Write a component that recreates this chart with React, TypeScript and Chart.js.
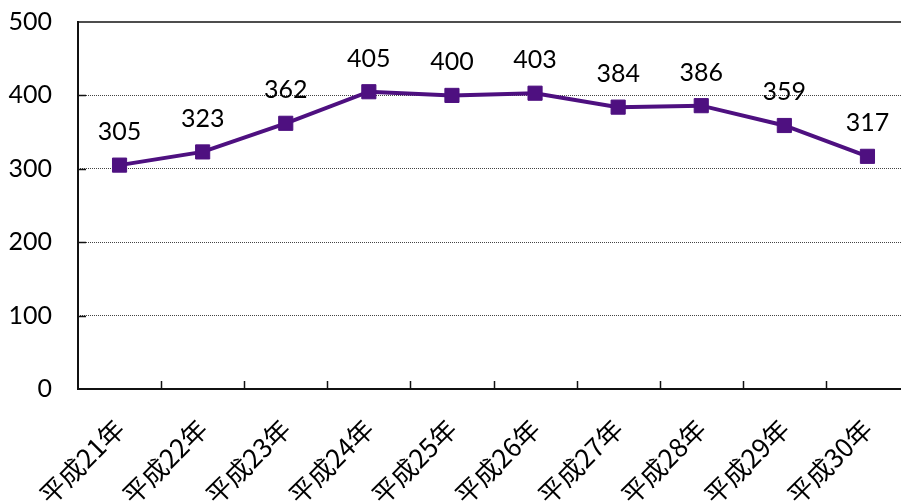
import React, { useEffect, useRef } from "react";
import { Chart, registerables } from "chart.js";

Chart.register(...registerables);

const categories = ["平成21年", "平成22年", "平成23年", "平成24年", "平成25年", "平成26年", "平成27年", "平成28年", "平成29年", "平成30年"];
const values = [305, 323, 362, 405, 400, 403, 384, 386, 359, 317];
const yTicks = [0, 100, 200, 300, 400, 500];

const LINE_COLOR = "#4e1080";
const NUM_FONT = "Lato, 'Open Sans', sans-serif";
const CJK_FONT = "'Noto Sans CJK JP', sans-serif";

const decorPlugin = {
  id: "decor",
  afterDraw(chart: any) {
    const ctx = chart.ctx;
    const area = chart.chartArea;
    const x = chart.scales.x;
    const y = chart.scales.y;
    ctx.save();
    // top line
    ctx.strokeStyle = "#4d4d4d";
    ctx.lineWidth = 2;
    ctx.beginPath();
    ctx.moveTo(area.left, area.top);
    ctx.lineTo(area.right, area.top);
    ctx.stroke();
    // axes
    ctx.strokeStyle = "#111";
    ctx.lineWidth = 2;
    ctx.beginPath();
    ctx.moveTo(area.left, area.top - 1);
    ctx.lineTo(area.left, area.bottom);
    ctx.lineTo(area.right, area.bottom);
    ctx.stroke();
    // y inward ticks
    ctx.lineWidth = 1.5;
    yTicks.forEach((v) => {
      if (v === 0 || v === 500) return;
      const py = Math.round(y.getPixelForValue(v)) + 0.5;
      ctx.beginPath();
      ctx.moveTo(area.left, py);
      ctx.lineTo(area.left + 8, py);
      ctx.stroke();
    });
    // x inward ticks at category boundaries
    const n = categories.length;
    for (let i = 1; i < n; i++) {
      const px = Math.round((x.getPixelForValue(i - 1) + x.getPixelForValue(i)) / 2) + 0.5;
      ctx.beginPath();
      ctx.moveTo(px, area.bottom);
      ctx.lineTo(px, area.bottom - 8);
      ctx.stroke();
    }
    // data labels
    const meta = chart.getDatasetMeta(0);
    ctx.fillStyle = "#000";
    ctx.font = `25px ${NUM_FONT}`;
    ctx.textAlign = "center";
    ctx.textBaseline = "alphabetic";
    meta.data.forEach((pt: any, i: number) => {
      ctx.fillText(String(values[i]), pt.x, pt.y - 25);
    });
    ctx.restore();
  },
};

export default function App() {
  const ref = useRef<HTMLCanvasElement | null>(null);
  useEffect(() => {
    if (!ref.current) return;
    const chart = new Chart(ref.current, {
      type: "line",
      data: {
        labels: categories,
        datasets: [
          {
            data: values,
            borderColor: LINE_COLOR,
            backgroundColor: LINE_COLOR,
            borderWidth: 4,
            pointStyle: "rect",
            pointRadius: 10,
            pointBorderWidth: 1,
            pointBackgroundColor: LINE_COLOR,
            pointBorderColor: LINE_COLOR,
            tension: 0,
          },
        ],
      },
      options: {
        animation: false,
        responsive: false,
        maintainAspectRatio: false,
        layout: { padding: { top: 22, right: 8, left: 0, bottom: 0 } },
        plugins: { legend: { display: false }, tooltip: { enabled: false } },
        scales: {
          x: {
            offset: true,
            grid: { display: false, drawTicks: false },
            border: { display: false },
            ticks: {
              minRotation: 45,
              maxRotation: 45,
              autoSkip: false,
              padding: 24,
              color: "#000",
              font: { family: CJK_FONT, size: 26 },
            },
            afterFit: (s: any) => {
              s.height = 112;
              s.paddingLeft = 0;
              s.paddingRight = 0;
            },
          },
          y: {
            min: 0,
            max: 500,
            afterBuildTicks: (s: any) => {
              s.ticks = yTicks.map((v) => ({ value: v }));
            },
            grid: {
              drawTicks: false,
              color: (c: any) => (c.tick && (c.tick.value === 0 || c.tick.value === 500) ? "rgba(0,0,0,0)" : "#444"),
              lineWidth: 1,
            },
            border: { display: false, dash: [1, 1] },
            ticks: {
              padding: 26,
              color: "#000",
              font: { family: NUM_FONT, size: 25 },
            },
            afterFit: (s: any) => {
              s.width = 78;
              s.paddingTop = 0;
              s.paddingBottom = 0;
            },
          },
        },
      },
      plugins: [decorPlugin],
    });
    return () => chart.destroy();
  }, []);
  return (
    <div style={{ position: "absolute", left: 0, top: 0, width: 901, height: 501, overflow: "hidden", background: "#fff" }}>
      <canvas ref={ref} width={920} height={501} style={{ display: "block", width: 920, height: 501 }} />
    </div>
  );
}
